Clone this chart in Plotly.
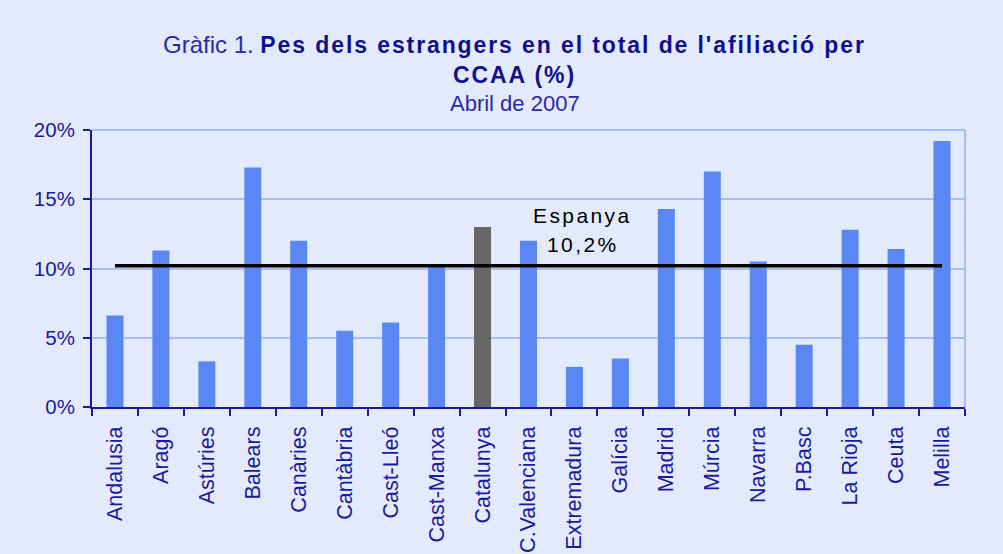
import plotly.graph_objects as go

regions = ["Andalusia", "Aragó", "Astúries", "Balears", "Canàries", "Cantàbria",
           "Cast-Lleó", "Cast-Manxa", "Catalunya", "C.Valenciana", "Extremadura",
           "Galícia", "Madrid", "Múrcia", "Navarra", "P.Basc", "La Rioja", "Ceuta", "Melilla"]
pct = [6.6, 11.3, 3.3, 17.3, 12.0, 5.5, 6.1, 10.3, 13.0, 12.0, 2.9,
       3.5, 14.3, 17.0, 10.5, 4.5, 12.8, 11.4, 19.2]
spain_avg = 10.2
highlight = "Catalunya"

bar_colors = ["#666666" if r == highlight else "#5b87f5" for r in regions]
navy = "#1a1a9e"
bg = "#e3eafb"

fig = go.Figure()
fig.add_trace(go.Bar(x=regions, y=pct, marker=dict(color=bar_colors, line_width=0),
                     width=0.37, showlegend=False))
fig.add_trace(go.Scatter(x=[regions[0], regions[-1]], y=[spain_avg, spain_avg],
                         mode="lines", line=dict(color="black", width=3.5), showlegend=False))

fig.update_layout(
    width=1003, height=554,
    margin=dict(l=92, r=38, t=130, b=147),
    paper_bgcolor=bg, plot_bgcolor=bg,
    font=dict(family="Liberation Sans", color=navy),
    xaxis=dict(type="category", tickson="boundaries", ticks="outside", ticklen=7,
               tickwidth=2, tickcolor=navy, showline=True, linecolor=navy, linewidth=2,
               tickangle=-90, ticklabelstandoff=9, automargin=False,
               tickfont=dict(size=21.5, color=navy, family="Liberation Sans"),
               showgrid=False),
    yaxis=dict(range=[0, 20], tickvals=[0, 5, 10, 15, 20],
               ticktext=["0%", "5%", "10%", "15%", "20%"],
               ticks="outside", ticklen=7, tickwidth=2, tickcolor=navy,
               showline=True, linecolor=navy, linewidth=2,
               showgrid=True, gridcolor="#a9bdf3", gridwidth=1.5,
               ticklabelstandoff=4, automargin=False,
               tickfont=dict(size=20.5, color=navy, family="Liberation Sans"),
               zeroline=False),
)

# plot-area border on right and top
fig.add_shape(type="line", xref="paper", yref="paper", x0=1, x1=1, y0=0, y1=1,
              line=dict(color="#a9bdf3", width=2))
fig.add_shape(type="line", xref="paper", yref="paper", x0=0, x1=1, y0=1, y1=1,
              line=dict(color="#a9bdf3", width=2))

fig.add_annotation(xref="paper", yref="paper", x=0.4845, y=1.307, yanchor="middle",
                   showarrow=False,
                   font=dict(family="Liberation Sans", size=23, color="#10108a"),
                   text="<span style='font-size:24px;color:#2a2aa8'>Gràfic 1. </span>"
                        "<span style='font-weight:bold;letter-spacing:1.9px'>Pes dels estrangers en el total de l'afiliació per</span>")
fig.add_annotation(xref="paper", yref="paper", x=0.4845, y=1.199, yanchor="middle",
                   showarrow=False,
                   text="<span style='font-weight:bold;letter-spacing:1.9px'>CCAA (%)</span>",
                   font=dict(family="Liberation Sans", size=23, color="#10108a"))
fig.add_annotation(xref="paper", yref="paper", x=0.4845, y=1.094, yanchor="middle",
                   showarrow=False,
                   text="Abril de 2007", font=dict(family="Liberation Sans", size=22, color="#2a2aa8"))
fig.add_annotation(xref="paper", yref="paper", x=0.562, y=0.693, yanchor="middle",
                   showarrow=False,
                   text="<span style='letter-spacing:2.4px'>Espanya</span>",
                   font=dict(family="Liberation Sans", size=21, color="black"))
fig.add_annotation(xref="paper", yref="paper", x=0.562, y=0.585, yanchor="middle",
                   showarrow=False,
                   text="<span style='letter-spacing:2.4px'>10,2%</span>",
                   font=dict(family="Liberation Sans", size=21, color="black"))

fig.write_html("out.html")
